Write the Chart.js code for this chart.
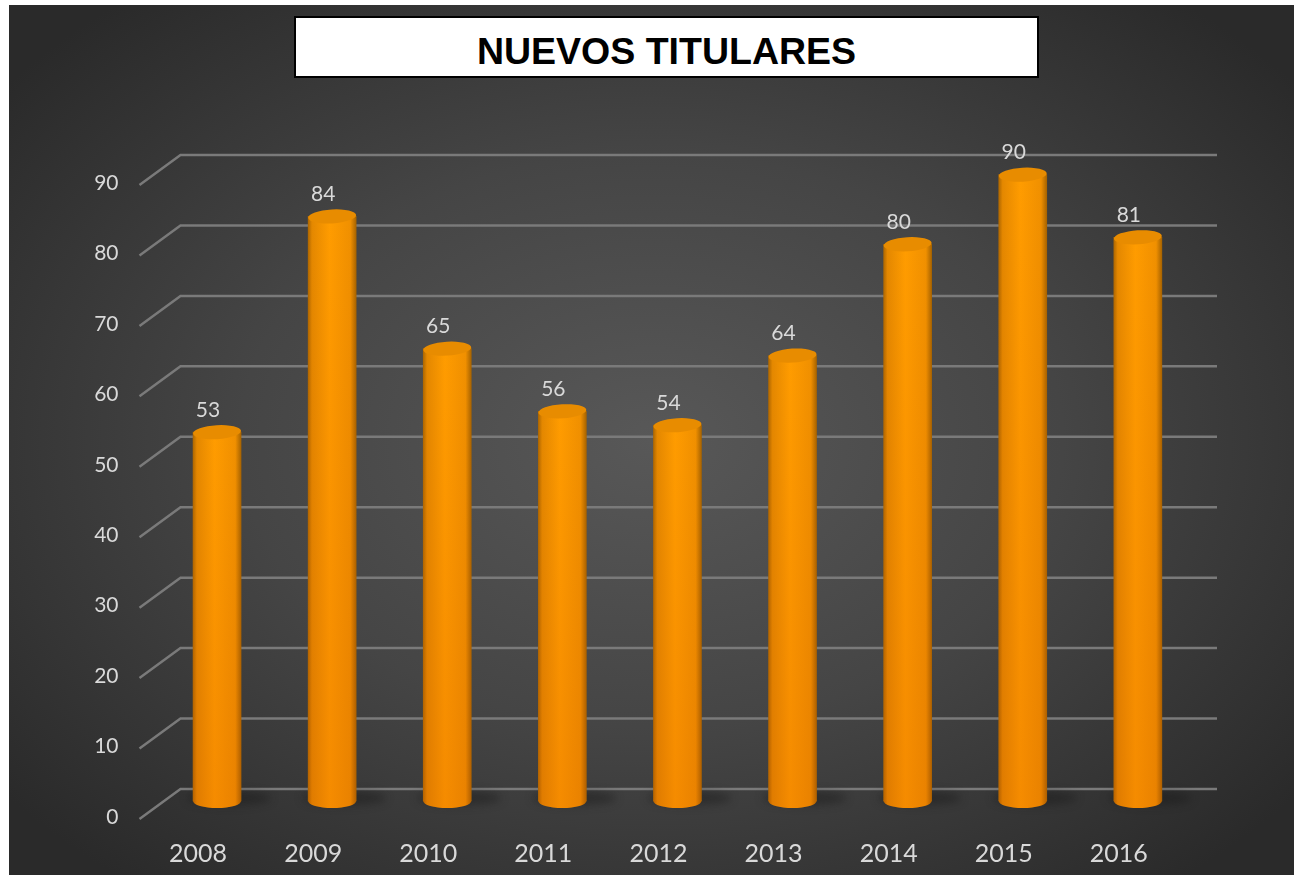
<!DOCTYPE html>
<html lang="es">
<head>
<meta charset="utf-8">
<title>Nuevos titulares</title>
<script src="https://cdn.jsdelivr.net/npm/chart.js@4"></script>
<style>
    html, body { margin: 0; padding: 0; background: #fff; overflow: hidden; }
    #panel {
        position: absolute; left: 9px; top: 5px; width: 1285px; height: 870px;
        background: radial-gradient(ellipse 64% 66% at 50% 50%, #585858 0%, #454545 50%, #2a2a2a 100%);
    }
    #grafico { position: absolute; left: 0; top: 0; }
    #titulo {
        position: absolute; left: 294px; top: 16px; width: 741px; height: 58px;
        background: #fff; border: 2px solid #000; text-align: center;
        font: bold 37.5px/67px "Liberation Sans", Arial, sans-serif; color: #000;
    }
</style>
</head>
<body>
<div id="panel"></div>
<canvas id="grafico" width="1294" height="875"></canvas>
<div id="titulo">NUEVOS TITULARES</div>
<script>
// Datos del gráfico
const anios = ['2008', '2009', '2010', '2011', '2012', '2013', '2014', '2015', '2016'];
const titulares = [53, 84, 65, 56, 54, 64, 80, 90, 81];

// Profundidad del falso 3D
const fondoX = 41;
const fondoY = 30;
const radioX = 24;
const radioY = 7;

const fuente = 'Lato, "Open Sans", sans-serif';
const colorTexto = '#d9d9d9';

// Degradado horizontal del cilindro
function degradadoBarra(ctx, x) {
    const g = ctx.createLinearGradient(x - radioX, 0, x + radioX, 0);
    g.addColorStop(0, '#b06800');
    g.addColorStop(0.08, '#e48800');
    g.addColorStop(0.45, '#ff9c00');
    g.addColorStop(0.88, '#f09000');
    g.addColorStop(1, '#a86400');
    return g;
}

// Rejilla en perspectiva, se pinta debajo de las barras
const rejilla = {
    id: 'rejilla',
    beforeDatasetsDraw(chart) {
        const { ctx, scales: { y, x, yBarras } } = chart;
        const izq = chart.chartArea.left - 20;
        ctx.save();
        ctx.strokeStyle = '#7a7a7a';
        ctx.lineWidth = 2.5;
        y.ticks.forEach(t => {
            const py = y.getPixelForValue(t.value) + 2;
            ctx.beginPath();
            ctx.moveTo(izq, py);
            ctx.lineTo(izq + fondoX, py - fondoY);
            ctx.lineTo(1217, py - fondoY);
            ctx.stroke();
        });
        // Sombra y base de cada cilindro
        const base = yBarras.getPixelForValue(0);
        anios.forEach((a, i) => {
            const px = x.getPixelForValue(i);
            ctx.filter = 'blur(4px)';
            ctx.fillStyle = 'rgba(20,20,20,0.4)';
            ctx.beginPath();
            ctx.ellipse(px + 12, base - 3, radioX + 18, radioY, 0, 0, Math.PI * 2);
            ctx.fill();
            ctx.filter = 'none';
            ctx.fillStyle = degradadoBarra(ctx, px);
            ctx.beginPath();
            ctx.ellipse(px, base, radioX, radioY, 0, 0, Math.PI * 2);
            ctx.fill();
        });
        ctx.restore();
    }
};

// Tapas de los cilindros y etiquetas de valor
const tapas = {
    id: 'tapas',
    afterDatasetsDraw(chart) {
        const { ctx } = chart;
        const barras = chart.getDatasetMeta(0).data;
        ctx.save();
        barras.forEach((b, i) => {
            // oscurecer un poco hacia abajo, incluida la base
            const g = ctx.createLinearGradient(0, b.y, 0, b.base + radioY);
            g.addColorStop(0, 'rgba(210,80,0,0)');
            g.addColorStop(1, 'rgba(210,80,0,0.22)');
            ctx.fillStyle = g;
            ctx.beginPath();
            ctx.moveTo(b.x - radioX, b.y);
            ctx.lineTo(b.x + radioX, b.y);
            ctx.lineTo(b.x + radioX, b.base);
            ctx.ellipse(b.x, b.base, radioX, radioY, 0, 0, Math.PI);
            ctx.closePath();
            ctx.fill();
            ctx.fillStyle = '#e88c00';
            ctx.beginPath();
            ctx.ellipse(b.x, b.y, radioX, radioY, -0.06, 0, Math.PI * 2);
            ctx.fill();
            ctx.fillStyle = colorTexto;
            ctx.font = '21px ' + fuente;
            ctx.textAlign = 'center';
            ctx.textBaseline = 'middle';
            ctx.fillText(titulares[i], b.x - 9, b.y - 22);
        });
        ctx.restore();
    }
};

new Chart(document.getElementById('grafico'), {
    type: 'bar',
    data: {
        labels: anios,
        datasets: [{
            data: titulares,
            yAxisID: 'yBarras',
            clip: false,
            barThickness: radioX * 2,
            borderWidth: 0,
            backgroundColor(c) {
                const x = c.chart.scales.x;
                if (!x || !c.chart.chartArea) return '#ff9a00';
                return degradadoBarra(c.chart.ctx, x.getPixelForValue(c.dataIndex));
            }
        }]
    },
    options: {
        responsive: false,
        animation: false,
        devicePixelRatio: 1,
        layout: { padding: { left: 9, right: 98.6, top: 183, bottom: 0 } },
        plugins: { legend: { display: false }, tooltip: { enabled: false } },
        scales: {
            x: {
                border: { display: false },
                grid: { display: false },
                afterFit(s) { s.height = 58; },
                ticks: { color: colorTexto, font: { family: fuente, size: 25 }, labelOffset: -19, padding: 14, maxRotation: 0 }
            },
            y: {
                min: 0, max: 90,
                border: { display: false },
                grid: { display: false },
                afterFit(s) { s.width = 150.5; },
                ticks: { stepSize: 10, color: colorTexto, font: { family: fuente, size: 21 }, padding: 33 }
            },
            // Las barras van a media profundidad: eje propio sin dibujar
            yBarras: { display: false, min: -2.3, max: 88.8 }
        }
    },
    plugins: [rejilla, tapas]
});
</script>
</body>
</html>
